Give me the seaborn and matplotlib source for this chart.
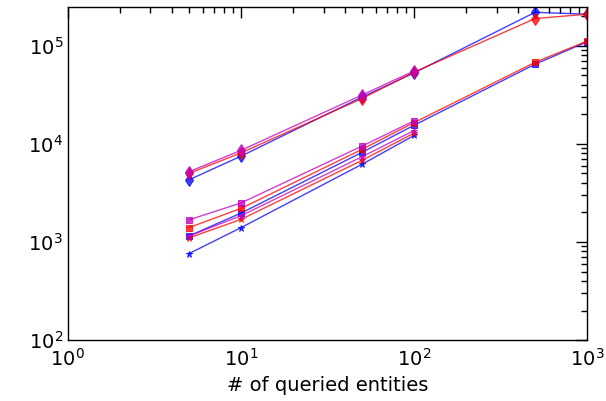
import numpy as np
import pandas as pd
import seaborn as sns
import matplotlib
matplotlib.use("Agg")
import matplotlib.pyplot as plt

# number of queried entities
n_ent = [5, 10, 50, 100, 500, 1000]
n_short = [5, 10, 50, 100]

# diamond series
dia_blue = [4300, 7500, 30000, 53000, 220000, 210000]
dia_red = [5000, 8100, 29000, 54000, 190000, 210000]
dia_mag = [5200, 8600, 31500, 55500]
# square series
sq_blue = [1150, 1970, 8200, 15500, 65000, 110000]
sq_red = [1400, 2200, 8800, 16500, 68000, 112000]
sq_mag = [1680, 2500, 9500, 17200]
# star series
st_blue = [760, 1400, 6200, 12200]
st_red = [1100, 1700, 6800, 12900]
st_mag = [1150, 1850, 7400, 13700]

series = [
    (n_ent, dia_blue, "b", "d"), (n_ent, dia_red, "r", "d"), (n_short, dia_mag, "m", "d"),
    (n_ent, sq_blue, "b", "s"), (n_ent, sq_red, "r", "s"), (n_short, sq_mag, "m", "s"),
    (n_short, st_blue, "b", "*"), (n_short, st_red, "r", "*"), (n_short, st_mag, "m", "*"),
]

sns.set_style("white")
plt.rcParams["font.family"] = ["DejaVu Sans"]
plt.rcParams["text.color"] = "black"
plt.rcParams["axes.labelcolor"] = "black"
plt.rcParams["xtick.color"] = "black"
plt.rcParams["ytick.color"] = "black"

fig = plt.figure(figsize=(6.06, 4.01), dpi=100)
ax = fig.add_axes([0.112, 0.152, 0.857, 0.831])

for xs, ys, c, m in series:
    df = pd.DataFrame({"x": xs, "y": ys})
    ms = {"d": 6, "s": 5, "*": 5}[m]
    sns.lineplot(data=df, x="x", y="y", ax=ax, color=c, marker=m, markersize=ms,
                 markeredgecolor=c, linewidth=1, alpha=0.75)

ax.set_xscale("log")
ax.set_yscale("log")
ax.set_xlim(1, 1000)
ax.set_ylim(100, 250000)
ax.set_xlabel("# of queried entities", fontsize=14, color="black")
ax.set_ylabel("")
for s in ax.spines.values():
    s.set_color("black")
    s.set_linewidth(1)
ax.tick_params(which="major", direction="in", length=8, width=1, top=True, right=True,
               labelsize=14, color="black", labelcolor="black")
ax.tick_params(which="minor", direction="in", length=4, width=1, top=True, right=True,
               color="black")
ax.tick_params(axis="x", pad=6)

fig.savefig("out.png", dpi=100)
